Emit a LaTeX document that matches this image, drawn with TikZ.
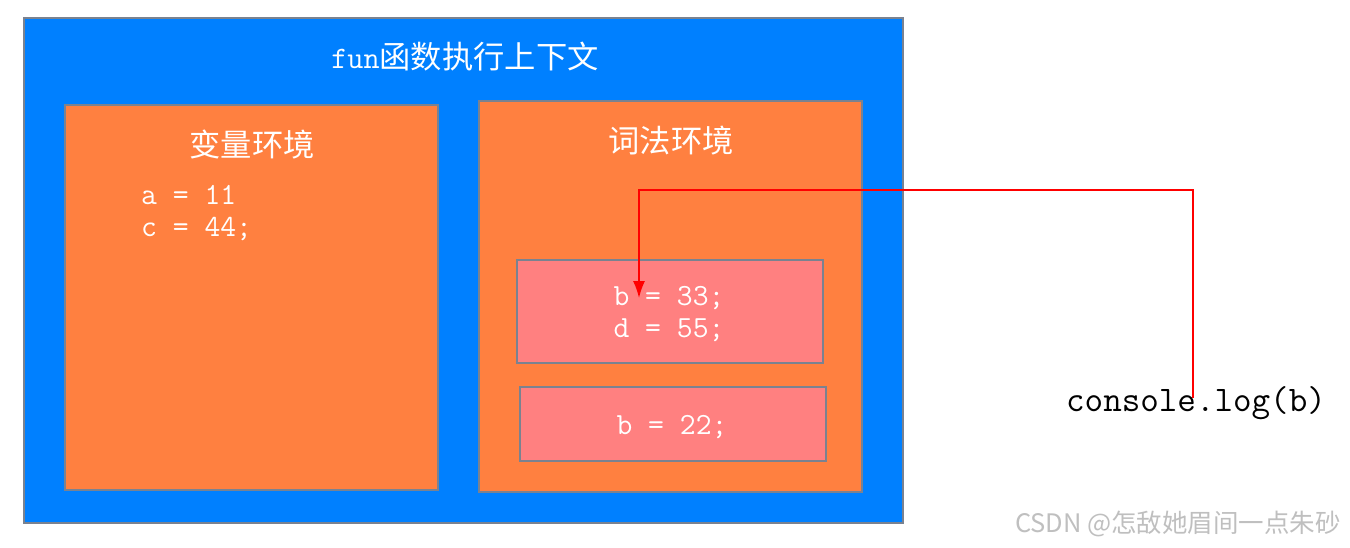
\documentclass[tikz,border=0pt]{standalone}
\usepackage{fontspec}
\newfontfamily\cjk{Noto Sans CJK SC}
\usepackage{tikz}
\usetikzlibrary{arrows.meta, positioning}

\definecolor{ctxblue}{HTML}{0080FF}
\definecolor{envorange}{HTML}{FF8040}
\definecolor{scopepink}{HTML}{FF8080}
\definecolor{edgegray}{HTML}{7A8290}

\begin{document}
\begin{tikzpicture}[
    x=0.02cm, y=-0.02cm,
    frame/.style={rectangle, draw=edgegray, line width=0.8pt, inner sep=0pt},
    ctx/.style={frame, fill=ctxblue},
    env/.style={frame, fill=envorange},
    scopebox/.style={frame, fill=scopepink},
    heading/.style={text=white, font=\cjk\fontsize{17.8}{20}\selectfont},
    code/.style={text=white, align=left, font=\ttfamily\fontsize{17.5}{18.7}\selectfont},
    arrow/.style={-{Latex[length=3.4mm, width=2.4mm]}, draw=red, line width=0.9pt}
]
    \useasboundingbox (0,0) rectangle (1350,548);

    % Boxes
    \node[ctx, minimum width=17.58cm, minimum height=10.1cm] (context) at (463.5,270.5) {};
    \node[env, minimum width=7.46cm, minimum height=7.7cm] (varenv) at (251.5,297.5) {};
    \node[env, minimum width=7.66cm, minimum height=7.82cm] (lexenv) at (670.5,296.5) {};
    \node[scopebox, minimum width=6.12cm, minimum height=2.06cm] (inner) at (670,311.5) {};
    \node[scopebox, minimum width=6.12cm, minimum height=1.48cm] (outer) at (673,424) {};

    % Labels
    \node[heading] (title) at (465,57) {{\ttfamily fun}函数执行上下文};
    \node[heading] (varlabel) at (252,145) {变量环境};
    \node[heading] (lexlabel) at (671,141) {词法环境};
    \node[code, anchor=west] (vars) at (135,213) {a = 11\\c = 44;};
    \node[code] (innervars) at (669,314) {b = 33;\\d = 55;};
    \node[code] (outervars) at (672,427) {b = 22;};
    \node[font=\ttfamily\fontsize{20.5}{22}\selectfont] (console) at (1196,403) {console.log(b)};
    \node[text=gray!50, anchor=east, font=\cjk\fontsize{14.5}{16}\selectfont] (mark) at (1347,524) {CSDN @怎敌她眉间一点朱砂};

    % Arrows
    \coordinate (turn) at (639,190);
    \coordinate (target) at (639,298);
    \draw[arrow] ([yshift=0.1cm]console.center -| 1193,0) |- (turn) -- (target);
\end{tikzpicture}
\end{document}
